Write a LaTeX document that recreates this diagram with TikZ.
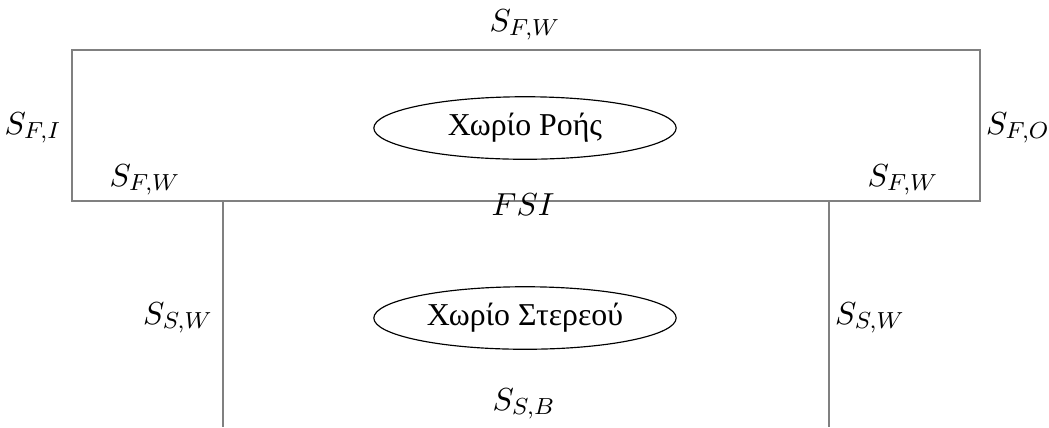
\documentclass[tikz,border=0pt,11pt]{standalone}
\usepackage{fontspec}
\newfontfamily\greekfont[Script=Greek]{Liberation Serif}
\usepackage{tikz}
\usetikzlibrary{positioning,shapes.geometric}
\tikzset{
  node-region/.style={draw=black,ellipse,inner sep=0pt,
    minimum width=104pt,minimum height=21.5pt,font=\greekfont},
  node-surf/.style={anchor=base,inner sep=0pt},
  line-wall/.style={draw=gray,line width=1pt},
}

\begin{document}
\begin{tikzpicture}[x=0.344pt,y=-0.344pt]
  \useasboundingbox (0,0) rectangle (1049,427);
  % fluid box and solid walls
  \coordinate (fluid-nw) at (72,50);
  \coordinate (fluid-se) at (980,201);
  \coordinate (solid-wl) at (223,201);
  \coordinate (solid-wr) at (829,201);
  \coordinate (solid-bl) at (223,427);
  \coordinate (solid-br) at (829,427);
  \draw[line-wall] (fluid-nw) rectangle (fluid-se);
  \draw[line-wall] (solid-wl) -- (solid-bl);
  \draw[line-wall] (solid-wr) -- (solid-br);
  \node[node-region] (fluid) at (525,128) {Χωρίο Ροής};
  \node[node-region] (solid) at (525,318) {Χωρίο Στερεού};
  % boundary labels
  \node[node-surf] (sfw-top) at (525,31) {$S_{F,W}$};
  \node[node-surf] (sfi) at (33,134) {$S_{F,I}$};
  \node[node-surf] (sfo) at (1018,134) {$S_{F,O}$};
  \node[node-surf] (sfw-l) at (145,186) {$S_{F,W}$};
  \node[node-surf] (sfw-r) at (903,186) {$S_{F,W}$};
  \node[node-surf] (fsi) at (523,215) {$FSI$};
  \node[node-surf] (ssw-l) at (178,324) {$S_{S,W}$};
  \node[node-surf] (ssw-r) at (870,324) {$S_{S,W}$};
  \node[node-surf] (ssb) at (524,410) {$S_{S,B}$};
\end{tikzpicture}
\end{document}
